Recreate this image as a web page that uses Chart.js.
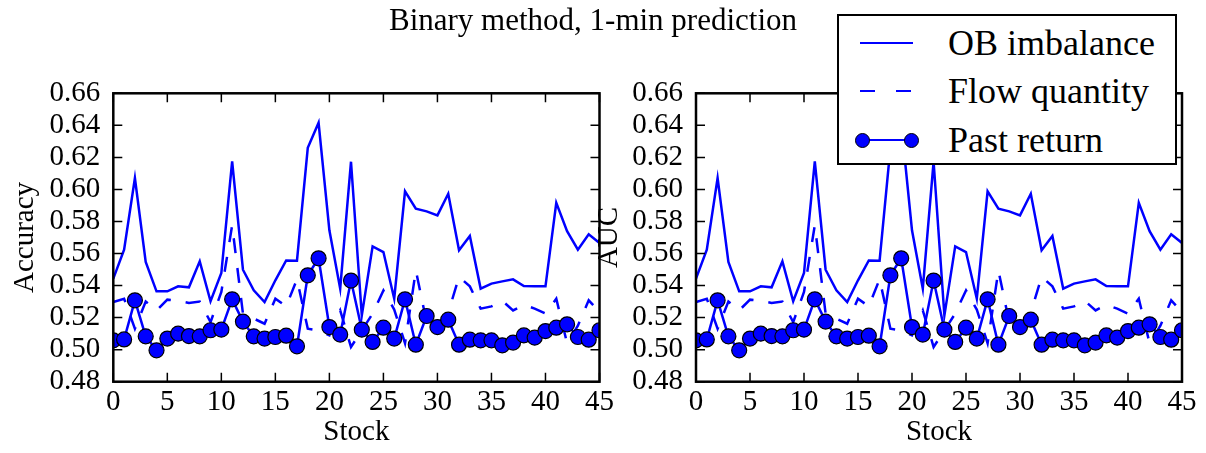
<!DOCTYPE html>
<html>
<head>
<meta charset="utf-8">
<script src="https://cdn.jsdelivr.net/npm/chart.js@4.4.1/dist/chart.umd.min.js"></script>
<style>
  html, body { margin: 0; padding: 0; background: #fff; }
  #wrap { position: relative; width: 1206px; height: 453px; overflow: hidden; background: #fff; }
  #wrap canvas { position: absolute; left: 0; top: 0; }
  #title {
    position: absolute; top: 2px; left: 343px; width: 500px; text-align: center;
    font-family: 'Liberation Serif', 'Times New Roman', serif; font-size: 31px; color: #000;
    white-space: nowrap;
  }
  #legend {
    position: absolute; left: 837px; top: 14px; width: 340px; height: 151px;
    box-sizing: border-box; border: 2px solid #000; background: #fff; z-index: 5;
  }
  .row { position: absolute; left: 0; width: 100%; height: 0; }
  .lbl {
    position: absolute; left: 109px; top: -22px; line-height: 44px;
    font-family: 'Liberation Serif', 'Times New Roman', serif; font-size: 36px; color: #000;
    white-space: nowrap;
  }
  .seg { position: absolute; height: 2.5px; top: -1.25px; background: #0000ff; }
  .dot {
    position: absolute; width: 15px; height: 15px; top: -7.5px; border-radius: 50%;
    box-sizing: border-box; background: #0000ff; border: 1.2px solid #000;
  }
</style>
</head>
<body>
<div id="wrap">
  <canvas id="accChart" width="1206" height="453"></canvas>
  <canvas id="aucChart" width="1206" height="453"></canvas>
  <div id="title">Binary method, 1-min prediction</div>
  <div id="legend">
    <div class="row" style="top:27px">
      <div class="seg" style="left:21px;width:53px"></div>
      <div class="lbl">OB imbalance</div>
    </div>
    <div class="row" style="top:75px">
      <div class="seg" style="left:21px;width:15px"></div>
      <div class="seg" style="left:57px;width:15px"></div>
      <div class="lbl">Flow quantity</div>
    </div>
    <div class="row" style="top:124px">
      <div class="seg" style="left:23px;width:49px"></div>
      <div class="dot" style="left:16px"></div>
      <div class="dot" style="left:65px"></div>
      <div class="lbl">Past return</div>
    </div>
  </div>
</div>
<script>
// Stock indices on the x axis
const stocks = [0, 1, 2, 3, 4, 5, 6, 7, 8, 9, 10, 11, 12, 13, 14, 15, 16, 17, 18, 19, 20, 21, 22,
  23, 24, 25, 26, 27, 28, 29, 30, 31, 32, 33, 34, 35, 36, 37, 38, 39, 40, 41, 42, 43, 44, 45];

// Order-book imbalance predictor
const obImbalance = [0.5443, 0.5624, 0.6071, 0.5547, 0.5364, 0.5364, 0.5395, 0.5389, 0.5551, 0.5302,
  0.5478, 0.6175, 0.5499, 0.5370, 0.5297, 0.5433, 0.5557, 0.5555, 0.6260, 0.6416,
  0.5745, 0.5381, 0.6173, 0.5214, 0.5645, 0.5609, 0.5318, 0.5988, 0.5880, 0.5863,
  0.5838, 0.5973, 0.5620, 0.5710, 0.5381, 0.5412, 0.5426, 0.5439, 0.5397, 0.5395,
  0.5395, 0.5917, 0.5740, 0.5624, 0.5720, 0.5666];

// Order-flow quantity predictor
const flowQuantity = [0.5297, 0.5318, 0.5131, 0.5300, 0.5245, 0.5312, 0.5305, 0.5291, 0.5300, 0.5172,
  0.5360, 0.5776, 0.5225, 0.5194, 0.5162, 0.5318, 0.5270, 0.5440, 0.5131, 0.5120,
  0.5090, 0.5245, 0.5017, 0.5120, 0.5225, 0.5370, 0.5250, 0.5040, 0.5495, 0.5170,
  0.5150, 0.5230, 0.5455, 0.5395, 0.5256, 0.5270, 0.5305, 0.5245, 0.5280, 0.5256,
  0.5225, 0.5318, 0.5040, 0.5150, 0.5308, 0.5235];

// Past-return predictor
const pastReturn = [0.5058, 0.5064, 0.5308, 0.5083, 0.4996, 0.5069, 0.5100, 0.5085, 0.5083, 0.5121,
  0.5125, 0.5314, 0.5175, 0.5083, 0.5069, 0.5079, 0.5087, 0.5021, 0.5464, 0.5570,
  0.5141, 0.5094, 0.5431, 0.5125, 0.5048, 0.5137, 0.5069, 0.5314, 0.5031, 0.5210,
  0.5141, 0.5187, 0.5031, 0.5062, 0.5058, 0.5058, 0.5027, 0.5044, 0.5089, 0.5075,
  0.5116, 0.5137, 0.5158, 0.5079, 0.5062, 0.5121];

// Axis tick values
const xTicks = [0, 5, 10, 15, 20, 25, 30, 35, 40, 45];
const yTicks = [0.48, 0.50, 0.52, 0.54, 0.56, 0.58, 0.60, 0.62, 0.64, 0.66];

const SERIF = "'Liberation Serif', 'Times New Roman', serif";
const BLUE = '#0000ff';
const H = 453;
const PLOT_TOP = 93.3;
const PLOT_BOTTOM = 381.7;
const TICK_LEN = 9;

const toPoints = vals => stocks.map((s, i) => ({ x: s, y: vals[i] }));

// Boxed axes with inward tick marks on all four sides
const frameTicks = {
  id: 'frameTicks',
  afterDatasetsDraw(chart) {
    const { ctx, chartArea: a, scales: { x, y } } = chart;
    ctx.save();
    ctx.strokeStyle = '#000';
    ctx.lineWidth = 1.5;
    ctx.beginPath();
    x.ticks.forEach(t => {
      const px = x.getPixelForValue(t.value);
      ctx.moveTo(px, a.bottom); ctx.lineTo(px, a.bottom - TICK_LEN);
      ctx.moveTo(px, a.top); ctx.lineTo(px, a.top + TICK_LEN);
    });
    y.ticks.forEach(t => {
      const py = y.getPixelForValue(t.value);
      ctx.moveTo(a.left, py); ctx.lineTo(a.left + TICK_LEN, py);
      ctx.moveTo(a.right, py); ctx.lineTo(a.right - TICK_LEN, py);
    });
    ctx.stroke();
    ctx.lineWidth = 2.5;
    ctx.strokeRect(a.left, a.top, a.right - a.left, a.bottom - a.top);
    ctx.restore();
  }
};

function makePanel(id, yTitle, padLeft, padRight, yAxisWidth, yTitlePad) {
  return new Chart(document.getElementById(id), {
    type: 'line',
    data: {
      datasets: [
        { label: 'OB imbalance', data: toPoints(obImbalance), borderColor: BLUE, borderWidth: 2.5,
          pointRadius: 0, tension: 0, fill: false, order: 3, clip: 0 },
        { label: 'Flow quantity', data: toPoints(flowQuantity), borderColor: BLUE, borderWidth: 2.5,
          borderDash: [15, 15], pointRadius: 0, tension: 0, fill: false, order: 2, clip: 0 },
        { label: 'Past return', data: toPoints(pastReturn), borderColor: BLUE, borderWidth: 2.5,
          pointRadius: 7.5, pointBackgroundColor: BLUE, pointBorderColor: '#000', pointBorderWidth: 1.2,
          tension: 0, fill: false, order: 1, clip: 0 }
      ]
    },
    options: {
      responsive: false,
      animation: false,
      devicePixelRatio: 1,
      events: [],
      layout: { padding: { left: padLeft, right: padRight, top: PLOT_TOP, bottom: 0 } },
      plugins: { legend: { display: false }, tooltip: { enabled: false }, title: { display: false } },
      scales: {
        x: {
          type: 'linear', min: 0, max: 45,
          afterBuildTicks: s => { s.ticks = xTicks.map(v => ({ value: v })); },
          afterFit: s => { s.height = H - PLOT_BOTTOM; s.paddingLeft = 0; s.paddingRight = 0; },
          grid: { display: false, drawTicks: false },
          border: { display: false },
          ticks: { color: '#000', padding: 3, maxRotation: 0, autoSkip: false,
            font: { family: SERIF, size: 29 }, callback: v => String(v) },
          title: { display: true, text: 'Stock', color: '#000', padding: { top: 0, bottom: 3 },
            font: { family: SERIF, size: 29 } }
        },
        y: {
          type: 'linear', min: 0.48, max: 0.66,
          afterBuildTicks: s => { s.ticks = yTicks.map(v => ({ value: v })); },
          afterFit: s => { s.width = yAxisWidth; s.paddingTop = 0; s.paddingBottom = 0; },
          grid: { display: false, drawTicks: false },
          border: { display: false },
          ticks: { color: '#000', padding: 13, autoSkip: false,
            font: { family: SERIF, size: 29 }, callback: v => v.toFixed(2) },
          title: { display: true, text: yTitle, color: '#000', padding: { top: yTitlePad, bottom: 0 },
            font: { family: SERIF, size: 29 } }
        }
      }
    },
    plugins: [frameTicks]
  });
}

makePanel('accChart', 'Accuracy', 0, 1206 - 599.5, 113.3, 7.6);
// The AUC panel plots the same three series
makePanel('aucChart', 'AUC', 590, 1206 - 1182, 106, 2);
</script>
</body>
</html>
